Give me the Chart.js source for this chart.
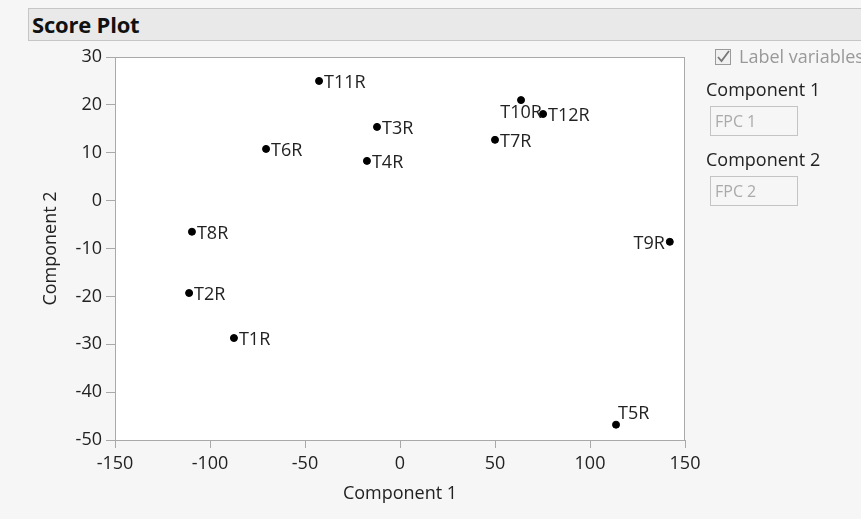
<!DOCTYPE html>
<html><head><meta charset="utf-8">
<script src="https://cdn.jsdelivr.net/npm/chart.js@4"></script>
<style>
html,body{margin:0;padding:0;background:#f6f6f6;width:861px;height:519px;overflow:hidden;font-family:"Open Sans","Noto Sans",sans-serif;}
#wrap{position:absolute;left:0;top:0;width:861px;height:519px;}
#titlebar{position:absolute;left:28px;top:8px;width:840px;height:33px;background:#e9e9e9;border:1px solid #c6c6c6;box-sizing:border-box;}
#titlebar span{position:absolute;left:3px;top:0px;line-height:31px;font-weight:bold;font-size:22px;color:#111;letter-spacing:-0.2px;white-space:nowrap;}
.lbl{position:absolute;font-size:18px;color:#222;line-height:22px;white-space:nowrap;}
.box{position:absolute;width:88px;height:30px;border:1px solid #c4c4c4;box-sizing:border-box;background:#f6f6f6;color:#aaa;font-size:16px;padding:3px 0 0 4px;white-space:nowrap;}
#chk{position:absolute;left:715px;top:49px;width:16px;height:16px;border:1px solid #9a9a9a;box-sizing:border-box;background:#f0f0f0;}
</style></head>
<body>
<div id="wrap"><canvas id="c" width="861" height="519"></canvas></div>
<div id="titlebar"><span>Score Plot</span></div>
<div id="chk"><svg width="16" height="16" style="position:absolute;left:-1px;top:-1px"><path d="M3 8 L6.5 12 L14 2" stroke="#777" stroke-width="1.8" fill="none"/></svg></div>
<div class="lbl" style="left:739px;top:45px;color:#999;">Label variables</div>
<div class="lbl" style="left:706px;top:78px;">Component 1</div>
<div class="box" style="left:710px;top:106px;">FPC 1</div>
<div class="lbl" style="left:706px;top:148px;">Component 2</div>
<div class="box" style="left:710px;top:176px;">FPC 2</div>
<script>
const labels = ["T11R","T3R","T4R","T6R","T10R","T12R","T7R","T9R","T8R","T2R","T1R","T5R"];
const comp1  = [-42.6,-12.1,-17.4,-70.5,63.7,75.3,50.0,142.0,-109.5,-111.0,-87.4,113.7];
const comp2  = [25.0,15.4,8.3,10.8,21.0,18.1,12.7,-8.6,-6.5,-19.3,-28.7,-46.8];
const labelSide = ["right","right","right","right","below","right","right","left","right","right","right","above"];
const xTicks = [-150,-100,-50,0,50,100,150];
const yTicks = [-50,-40,-30,-20,-10,0,10,20,30];

const pts = comp1.map((x,i)=>({x:x,y:comp2[i]}));
const FONT = '"Open Sans","Noto Sans",sans-serif';

const framePlugin = {
  id:'frame',
  beforeDatasetsDraw(chart){
    const a = chart.chartArea, ctx = chart.ctx;
    ctx.save();
    ctx.fillStyle='#ffffff';
    ctx.fillRect(a.left,a.top,a.right-a.left,a.bottom-a.top);
    ctx.strokeStyle='#a9a9a9'; ctx.lineWidth=1;
    ctx.strokeRect(a.left+0.5,a.top+0.5,a.right-a.left-1,a.bottom-a.top);
    ctx.restore();
  },
  afterDatasetsDraw(chart){
    const meta = chart.getDatasetMeta(0), ctx = chart.ctx;
    ctx.save();
    ctx.font = '18px '+FONT;
    ctx.fillStyle = '#222';
    meta.data.forEach((el,i)=>{
      const s = labelSide[i];
      let x = el.x, y = el.y;
      if (s==='right'){ctx.textAlign='left';ctx.textBaseline='middle';ctx.fillText(labels[i],x+5,y+2);}
      else if (s==='left'){ctx.textAlign='right';ctx.textBaseline='middle';ctx.fillText(labels[i],x-5,y+2);}
      else if (s==='below'){ctx.textAlign='center';ctx.textBaseline='top';ctx.fillText(labels[i],x,y+4);}
      else {ctx.textAlign='left';ctx.textBaseline='bottom';ctx.fillText(labels[i],x+2,y-2);}
    });
    ctx.restore();
  }
};

new Chart(document.getElementById('c'),{
  type:'scatter',
  data:{datasets:[{data:pts,backgroundColor:'#000',borderColor:'#000',pointRadius:3.5,pointHoverRadius:3.5}]},
  options:{
    responsive:false,animation:false,
    layout:{padding:{left:40,top:57,right:176,bottom:9}},
    plugins:{legend:{display:false},tooltip:{enabled:false}},
    scales:{
      x:{type:'linear',min:-150,max:150,
        afterBuildTicks(ax){ax.ticks=xTicks.map(v=>({value:v}));},
        afterFit(ax){ax.height=70;},
        grid:{drawOnChartArea:false,tickLength:8,color:'#a9a9a9'},
        border:{color:'#a9a9a9'},
        ticks:{color:'#222',font:{size:18,family:FONT},padding:5,maxRotation:0},
        title:{display:true,text:'Component 1',color:'#222',font:{size:18,family:FONT},padding:{top:0,bottom:5}}
      },
      y:{type:'linear',min:-50,max:30,
        afterBuildTicks(ax){ax.ticks=yTicks.map(v=>({value:v}));},
        afterFit(ax){ax.width=75;},
        grid:{drawOnChartArea:false,tickLength:9,color:'#a9a9a9'},
        border:{color:'#a9a9a9'},
        ticks:{color:'#222',font:{size:18,family:FONT},padding:4},
        title:{display:true,text:'Component 2',color:'#222',font:{size:18,family:FONT},padding:{top:0,bottom:0}}
      }
    }
  },
  plugins:[framePlugin]
});
</script>
</body></html>
